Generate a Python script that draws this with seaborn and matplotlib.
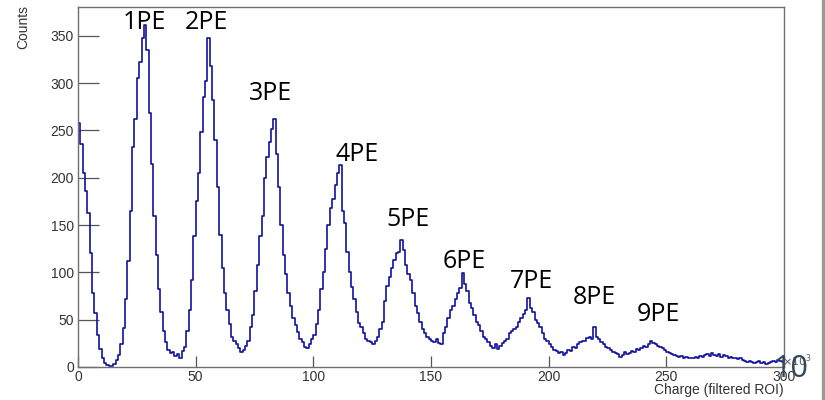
import numpy as np
import pandas as pd
import matplotlib
matplotlib.use("Agg")
import matplotlib.pyplot as plt
import seaborn as sns
from matplotlib.patches import Rectangle
from matplotlib.ticker import MultipleLocator

# histogram contents, one value per 1e3 charge unit (0..300)
bin_edges = list(range(0, 301))
counts = [
    258, 236, 205, 186, 163, 121, 78, 57, 34, 19,
    9, 4, 2, 1, 1, 3, 7, 13, 24, 41,
    72, 112, 165, 232, 262, 305, 322, 348, 362, 335,
    268, 215, 160, 118, 82, 58, 38, 26, 18, 15,
    16, 12, 14, 9, 17, 21, 38, 60, 92, 138,
    175, 205, 248, 285, 302, 348, 318, 282, 240, 190,
    140, 105, 78, 60, 45, 32, 28, 24, 20, 16,
    18, 22, 28, 42, 55, 80, 108, 138, 160, 200,
    222, 238, 252, 262, 225, 190, 150, 118, 98, 78,
    64, 52, 44, 37, 30, 26, 21, 20, 24, 30,
    34, 45, 60, 82, 100, 125, 150, 168, 178, 192,
    205, 213, 165, 152, 122, 100, 85, 72, 58, 46,
    42, 36, 30, 28, 26, 24, 28, 32, 40, 48,
    70, 86, 95, 105, 113, 120, 122, 134, 124, 108,
    98, 92, 78, 65, 57, 48, 40, 36, 32, 30,
    28, 26, 30, 25, 24, 36, 42, 52, 60, 64,
    72, 78, 84, 99, 88, 80, 68, 62, 55, 48,
    44, 38, 32, 30, 26, 22, 20, 24, 19, 22,
    25, 28, 30, 36, 38, 40, 42, 48, 52, 56,
    60, 73, 62, 58, 50, 46, 42, 36, 30, 27,
    24, 21, 18, 17, 15, 16, 13, 15, 18, 17,
    21, 20, 24, 26, 28, 27, 31, 32, 30, 42,
    32, 30, 26, 24, 21, 20, 18, 16, 15, 14,
    11, 13, 16, 14, 15, 17, 16, 19, 18, 20,
    22, 21, 24, 28, 25, 24, 22, 21, 20, 18,
    16, 15, 14, 13, 12, 11, 12, 10, 11, 9,
    10, 9, 11, 10, 12, 11, 13, 14, 12, 15,
    13, 12, 14, 11, 13, 12, 10, 11, 9, 10,
    8, 9, 7, 6, 5, 6, 5, 4, 5, 6,
    4, 5, 3, 4, 5, 6, 5, 7, 6, 5,
]

# peak labels and where they sit
pe_labels = ["1PE", "2PE", "3PE", "4PE", "5PE", "6PE", "7PE", "8PE", "9PE"]
pe_x = [28.0, 54.4, 82.0, 118.5, 140.2, 164.0, 192.9, 219.6, 246.8]
pe_y = [364, 364, 289, 225, 156, 112, 90, 73, 56]

centers = [(a + b) / 2 for a, b in zip(bin_edges[:-1], bin_edges[1:])]
df = pd.DataFrame({"charge": centers, "counts": counts})

sns.set_style("white")
plt.rcParams["font.family"] = ["Liberation Sans", "DejaVu Sans"]

fig = plt.figure(figsize=(8.25, 4.0), dpi=100)
ax = fig.add_axes([78 / 825, 33 / 400, 706 / 825, 360 / 400])

sns.histplot(data=df, x="charge", weights="counts", bins=bin_edges,
             element="step", fill=False, color="#12129c", linewidth=1.2, ax=ax)

ax.set_xlim(0, 300)
ax.set_ylim(0, 380.5)

# ROOT-like axes: inward ticks, gray frame
for s in ax.spines.values():
    s.set_color("#707070")
    s.set_linewidth(1.0)
ax.xaxis.set_major_locator(MultipleLocator(50))
ax.xaxis.set_minor_locator(MultipleLocator(10))
ax.yaxis.set_major_locator(MultipleLocator(50))
ax.yaxis.set_minor_locator(MultipleLocator(10))
ax.tick_params(axis="y", which="major", direction="in", length=15, width=0.9,
               color="#555555", labelsize=10, labelcolor="#333333", pad=3)
ax.tick_params(axis="y", which="minor", direction="in", length=8, width=0.9, color="#555555")
ax.tick_params(axis="x", which="major", direction="in", length=8, width=0.9,
               color="#555555", labelsize=10, labelcolor="#333333", pad=2)
ax.tick_params(axis="x", which="minor", direction="in", length=4, width=0.9, color="#555555")
ax.tick_params(left=True, bottom=True, top=False, right=False)

ax.set_xlabel("")
ax.set_ylabel("")
fig.text(784 / 825, 3 / 400, "Charge (filtered ROI)", ha="right", va="bottom",
         fontsize=10, color="#333333")
fig.text(23 / 825, 1 - 5 / 400, "Counts", ha="center", va="top", rotation=90,
         fontsize=10, color="#333333")
fig.text(782 / 825, 1 - 361 / 400, r"$\times10^{3}$", ha="left", va="center",
         fontsize=8, color="#555555")

for lab, x, y in zip(pe_labels, pe_x, pe_y):
    ax.text(x, y, lab, ha="center", va="center", fontsize=18, color="black",
            family=["Open Sans", "DejaVu Sans"])

# stray overlay text and page border from the slide
fig.text(791 / 825, 1 - 369 / 400, "10", ha="center", va="center", fontsize=22,
         color="#2e4a5c", family=["Open Sans", "DejaVu Sans"])
fig.patches.append(Rectangle((822 / 825, 0), 3 / 825, 1, transform=fig.transFigure,
                             color="#9a9a9a", zorder=5))

fig.savefig("out.png", dpi=100, facecolor="white")
